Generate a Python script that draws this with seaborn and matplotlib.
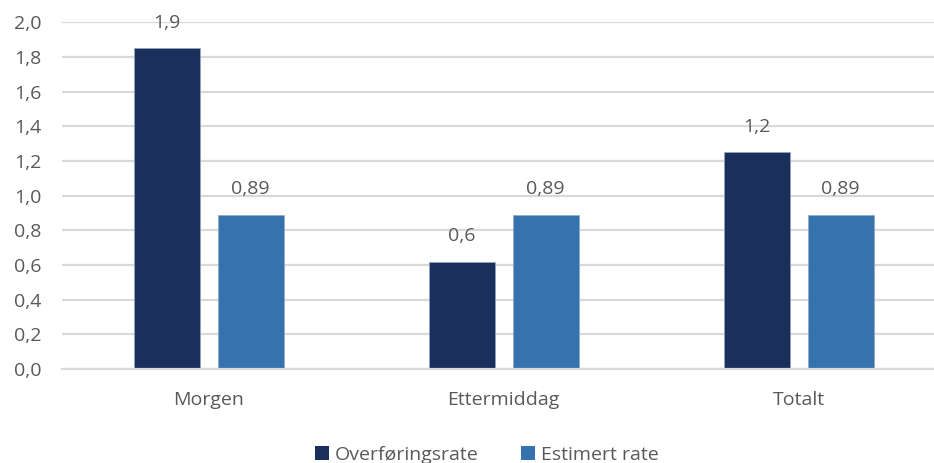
import matplotlib
matplotlib.use("Agg")
import matplotlib.pyplot as plt
from matplotlib.patches import Patch
import seaborn as sns
import pandas as pd

# Chart data
categories = ["Morgen", "Ettermiddag", "Totalt"]
series_names = ["Overføringsrate", "Estimert rate"]
overforingsrate = [1.85, 0.62, 1.25]
estimert_rate = [0.89, 0.89, 0.89]
label_decimals = [1, 2]          # decimals shown in the data labels per series
y_ticks = [0.0, 0.2, 0.4, 0.6, 0.8, 1.0, 1.2, 1.4, 1.6, 1.8, 2.0]

colors = ["#1a2f5b", "#3572ae"]
text_color = "#595959"
grid_color = "#d9d9d9"
font_size = 14

df = pd.DataFrame({
    "kategori": categories * 2,
    "serie": [series_names[0]] * 3 + [series_names[1]] * 3,
    "verdi": overforingsrate + estimert_rate,
})

sns.set_theme(style="white")
plt.rcParams["font.family"] = ["Open Sans", "DejaVu Sans"]

fig = plt.figure(figsize=(9.34, 4.63), dpi=100)
ax = fig.add_axes([62 / 934, 1 - 369 / 463, (934 - 62) / 934, (369 - 22.3) / 463])

sns.barplot(
    data=df, x="kategori", y="verdi", hue="serie",
    order=categories, hue_order=series_names,
    palette=colors, saturation=1, width=0.57, gap=0.214,
    edgecolor="#8fa8c8", linewidth=0.5,
    legend=False, ax=ax,
)

ax.set_ylim(0, 2.0)
ax.set_xlim(-0.497, -0.497 + 872 / 295)
ax.set_yticks(y_ticks)
ax.set_yticklabels([f"{t:.1f}".replace(".", ",") for t in y_ticks])
ax.set_xlabel("")
ax.set_ylabel("")

ax.yaxis.grid(True, color=grid_color, linewidth=1.6)
ax.set_axisbelow(True)
for side in ["top", "right", "left"]:
    ax.spines[side].set_visible(False)
ax.spines["bottom"].set_color(grid_color)
ax.spines["bottom"].set_linewidth(1.6)

ax.tick_params(axis="y", length=0, pad=15, labelsize=font_size, labelcolor=text_color)
ax.tick_params(axis="x", length=0, pad=16, labelsize=font_size, labelcolor=text_color)

# Data labels above each bar
for container, dec in zip(ax.containers, label_decimals):
    for bar in container:
        h = bar.get_height()
        ax.annotate(
            f"{h:.{dec}f}".replace(".", ","),
            xy=(bar.get_x() + bar.get_width() / 2, h),
            xytext=(0, 18.5), textcoords="offset points",
            ha="center", va="center", fontsize=font_size, color=text_color,
        )

handles = [Patch(facecolor=c, edgecolor="none") for c in colors]
fig.legend(
    handles, series_names, loc="center", bbox_to_anchor=(487 / 934, 1 - 455 / 463),
    ncol=2, frameon=False, fontsize=font_size, labelcolor=text_color,
    handlelength=0.7, handleheight=0.7, handletextpad=0.3, columnspacing=2.2,
)

fig.savefig("out.png", dpi=100)
